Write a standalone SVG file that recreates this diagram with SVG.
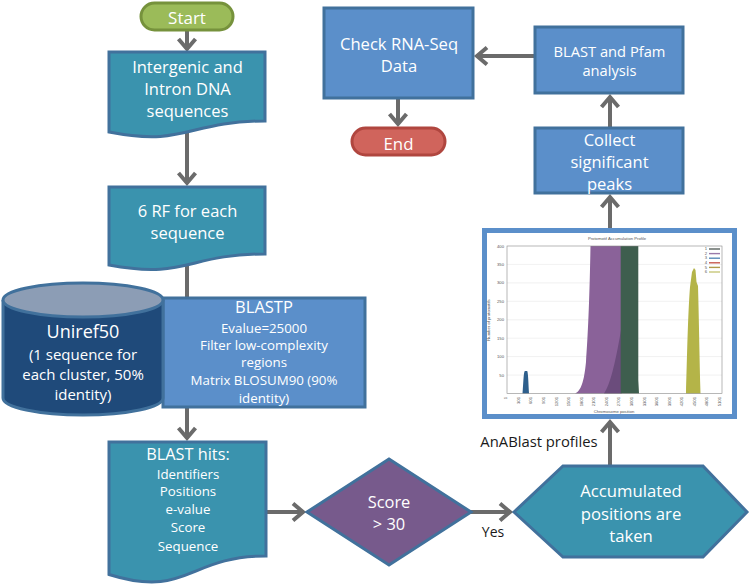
<svg xmlns="http://www.w3.org/2000/svg" width="750" height="584" viewBox="0 0 750 584">
<defs>
<style>
.t{font-family:"Open Sans","Liberation Sans",sans-serif;fill:#ffffff;text-anchor:middle}
.l{font-family:"Open Sans","Liberation Sans",sans-serif;fill:#1a1a1a;text-anchor:middle}
.c{font-family:"Liberation Sans",sans-serif;fill:#555;font-size:4.2px}
.box{fill:#5b8fca;stroke:#41719c;stroke-width:3}
.doc{fill:#3a93ae;stroke:#41719c;stroke-width:3}
.con{fill:none;stroke:#6b6b6b;stroke-width:4;marker-end:url(#ah)}
.grid{stroke:#e2e2e2;stroke-width:0.5}
</style>
<marker id="ah" markerUnits="userSpaceOnUse" markerWidth="24" markerHeight="24" viewBox="-14 -12 18 24" refX="0" refY="0" orient="auto" overflow="visible">
<path d="M-10,-8.5 L0,0 L-10,8.5" fill="none" stroke="#6b6b6b" stroke-width="4"/>
</marker>
</defs>
<rect width="750" height="584" fill="#ffffff"/>
<g id="connectors">
<path class="con" d="M187,30 L187,49"/>
<path class="con" d="M187,126 L187,183"/>
<path class="con" d="M187,250 L187,438"/>
<path class="con" d="M266,512 L303,512"/>
<path class="con" d="M471,512 L510,512"/>
<path class="con" d="M610,466 L610,422"/>
<path class="con" d="M610,228 L610,197"/>
<path class="con" d="M610,128 L610,97"/>
<path class="con" d="M535,56 L477,56"/>
<path class="con" d="M398,98 L398,124"/>
</g>
<g id="start">
<rect x="141" y="3" width="92" height="27" rx="13.5" fill="#9bbb59" stroke="#76923c" stroke-width="3"/>
<text class="t" x="187" y="24" font-size="17">Start</text>
</g>
<g id="intergenic">
<path class="doc" d="M109,52 H265 V121 C187,121 187,147 109,132 Z"/>
<text class="t" font-size="16.5"><tspan x="187.5" y="73">Intergenic and</tspan><tspan x="187.5" y="95">Intron DNA</tspan><tspan x="187.5" y="117">sequences</tspan></text>
</g>
<g id="rf6">
<path class="doc" d="M109,187 H265 V254 C187,254 187,279.5 109,265 Z"/>
<text class="t" font-size="16.5"><tspan x="187.5" y="217">6 RF for each</tspan><tspan x="187.5" y="239">sequence</tspan></text>
</g>
<g id="blastp">
<rect class="box" x="163" y="298" width="202" height="109"/>
<text class="t" font-size="16.5" x="264" y="313">BLASTP</text>
<text class="t" font-size="13.3"><tspan x="264" y="333">Evalue=25000</tspan><tspan x="264" y="350">Filter low-complexity</tspan><tspan x="264" y="367">regions</tspan><tspan x="264" y="385">Matrix BLOSUM90 (90%</tspan><tspan x="264" y="403">identity)</tspan></text>
</g>
<g id="uniref50">
<path d="M3,300 V398 A80,17 0 0 0 163,398 V300" fill="#1f4a7a" stroke="#41719c" stroke-width="3"/>
<ellipse cx="83" cy="300" rx="80" ry="17" fill="#8c9db5" stroke="#41719c" stroke-width="3"/>
<text class="t" font-size="18" x="83" y="338">Uniref50</text>
<text class="t" font-size="15"><tspan x="83" y="360">(1 sequence for</tspan><tspan x="83" y="380">each cluster, 50%</tspan><tspan x="83" y="400">identity)</tspan></text>
</g>
<g id="blasthits">
<path class="doc" d="M109,442 H266 V556 C187.5,556 187.5,599 109,574.5 Z"/>
<text class="t" font-size="16.3" x="188" y="460">BLAST hits:</text>
<text class="t" font-size="13.3"><tspan x="188" y="479">Identifiers</tspan><tspan x="188" y="496">Positions</tspan><tspan x="188" y="514">e-value</tspan><tspan x="188" y="532">Score</tspan><tspan x="188" y="551">Sequence</tspan></text>
</g>
<g id="score">
<polygon points="389,459 471,512 389,565 307,512" fill="#775a8c" stroke="#41719c" stroke-width="3"/>
<text class="t" font-size="16.4"><tspan x="389" y="508">Score</tspan><tspan x="389" y="530">&gt; 30</tspan></text>
</g>
<text class="l" font-size="14" x="493" y="537">Yes</text>
<g id="accumulated">
<polygon points="514,512 563,466 703,466 747,512 703,557 563,557" fill="#3a93ae" stroke="#41719c" stroke-width="3"/>
<text class="t" font-size="16.7"><tspan x="631" y="497">Accumulated</tspan><tspan x="631" y="520">positions are</tspan><tspan x="631" y="542">taken</tspan></text>
</g>
<text class="l" font-size="14.8" x="539" y="447">AnABlast profiles</text>
<g id="profile">
<rect x="484.5" y="230.5" width="250" height="186" fill="#ffffff" stroke="#5b8fca" stroke-width="5"/>
<text class="c" x="617" y="239.5" text-anchor="middle">Protomotif Accumulation Profile</text>
<g>
<line class="grid" x1="507" y1="264.4" x2="722" y2="264.4"/>
<line class="grid" x1="507" y1="282.9" x2="722" y2="282.9"/>
<line class="grid" x1="507" y1="301.3" x2="722" y2="301.3"/>
<line class="grid" x1="507" y1="319.8" x2="722" y2="319.8"/>
<line class="grid" x1="507" y1="338.2" x2="722" y2="338.2"/>
<line class="grid" x1="507" y1="356.6" x2="722" y2="356.6"/>
<line class="grid" x1="507" y1="375.1" x2="722" y2="375.1"/>
</g>
<path d="M522.5,393.5 C523.3,385 523.5,372 524.8,371 L527.2,371 C528.2,373 528.3,382 529,393.5 Z" fill="#2e5f8c"/>
<path d="M575,393.5 C581,391 584,382 586,362 C588,335 589.5,300 590.5,246 L622,246 L622,393.5 Z" fill="#8a6299"/>
<path d="M604,393.5 C610,385 615,365 621,330 L621,393.5 Z" fill="#6b4c7c"/>
<path d="M620.7,246 L638.3,246 L638.3,380 L639,393.5 L620.7,393.5 Z" fill="#3e5e4e"/>
<path d="M686,393.5 C687,360 688,312 690,287 L692,272 L694,268 L695.5,270 L696.5,282 L698,286 C699,320 699.5,360 700.5,393.5 Z" fill="#b4b448"/>
<rect x="507" y="246" width="215" height="147.5" fill="none" stroke="#888" stroke-width="0.6"/>
<g class="c" text-anchor="end">
<text x="504" y="247.5">400</text><text x="504" y="266">350</text><text x="504" y="284.4">300</text><text x="504" y="302.8">250</text><text x="504" y="321.3">200</text><text x="504" y="339.7">150</text><text x="504" y="358.1">100</text><text x="504" y="376.6">50</text>
</g>
<g class="c" text-anchor="end">
<text transform="translate(507.2,397) rotate(-90)">1</text>
<text transform="translate(519.8,397) rotate(-90)">301</text>
<text transform="translate(532.4,397) rotate(-90)">601</text>
<text transform="translate(544.9,397) rotate(-90)">901</text>
<text transform="translate(557.5,397) rotate(-90)">1201</text>
<text transform="translate(570.1,397) rotate(-90)">1501</text>
<text transform="translate(582.6,397) rotate(-90)">1801</text>
<text transform="translate(595.2,397) rotate(-90)">2101</text>
<text transform="translate(607.8,397) rotate(-90)">2401</text>
<text transform="translate(620.3,397) rotate(-90)">2701</text>
<text transform="translate(632.9,397) rotate(-90)">3001</text>
<text transform="translate(645.5,397) rotate(-90)">3301</text>
<text transform="translate(658,397) rotate(-90)">3601</text>
<text transform="translate(670.6,397) rotate(-90)">3901</text>
<text transform="translate(683.2,397) rotate(-90)">4201</text>
<text transform="translate(695.7,397) rotate(-90)">4501</text>
<text transform="translate(708.3,397) rotate(-90)">4801</text>
<text transform="translate(720.9,397) rotate(-90)">5101</text>
</g>
<text class="c" x="614" y="413" text-anchor="middle">Chromosome position</text>
<text class="c" transform="translate(490,320) rotate(-90)" text-anchor="middle">Number of protomotifs</text>
<g stroke-width="1.4">
<line x1="709" y1="249" x2="720" y2="249" stroke="#5a625e"/>
<line x1="709" y1="253.6" x2="720" y2="253.6" stroke="#9a7aaa"/>
<line x1="709" y1="258.2" x2="720" y2="258.2" stroke="#5a8ab8"/>
<line x1="709" y1="262.8" x2="720" y2="262.8" stroke="#c85a50"/>
<line x1="709" y1="267.4" x2="720" y2="267.4" stroke="#b09a4a"/>
<line x1="709" y1="272" x2="720" y2="272" stroke="#c8c87a"/>
</g>
<g class="c" font-size="3.5px" text-anchor="end">
<text x="707" y="250.2">1</text><text x="707" y="254.8">2</text><text x="707" y="259.4">3</text><text x="707" y="264">4</text><text x="707" y="268.6">5</text><text x="707" y="273.2">6</text>
</g>
</g>
<g id="collect">
<rect class="box" x="535" y="128" width="148" height="65"/>
<text class="t" font-size="16.5"><tspan x="609.5" y="146">Collect</tspan><tspan x="609.5" y="168">significant</tspan><tspan x="609.5" y="190">peaks</tspan></text>
</g>
<g id="blastpfam">
<rect class="box" x="535" y="27" width="148" height="66"/>
<text class="t" font-size="14.7"><tspan x="609.5" y="57">BLAST and Pfam</tspan><tspan x="609.5" y="76">analysis</tspan></text>
</g>
<g id="checkrna">
<rect class="box" x="324" y="8" width="149" height="90"/>
<text class="t" font-size="16.6"><tspan x="399" y="50">Check RNA-Seq</tspan><tspan x="399" y="72">Data</tspan></text>
</g>
<g id="end">
<rect x="352" y="128" width="93" height="27" rx="13.5" fill="#d0645c" stroke="#b0463f" stroke-width="3"/>
<text class="t" font-size="16.8" x="398.5" y="150">End</text>
</g>
</svg>
